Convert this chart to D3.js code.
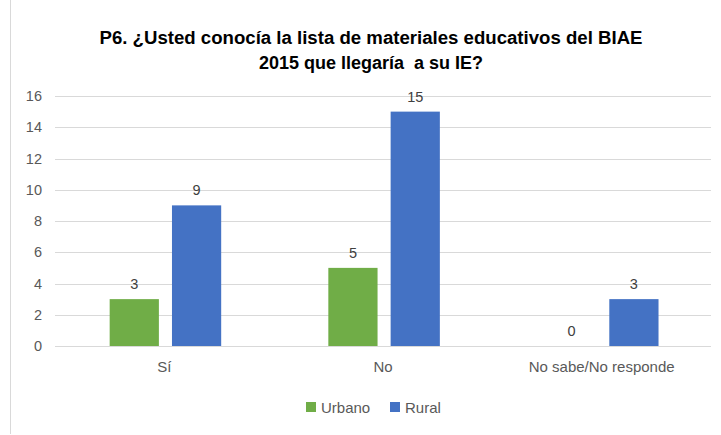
<!DOCTYPE html>
<html>
<head>
<meta charset="utf-8">
<script src="https://cdn.jsdelivr.net/npm/d3@7"></script>
<style>
  body { margin: 0; background: #fff; }
  svg { font-family: "Liberation Sans", Arial, sans-serif; }
</style>
</head>
<body>
<svg id="chart" width="721" height="435"></svg>
<script>
// Data
const categories = ["Sí", "No", "No sabe/No responde"];
const seriesNames = ["Urbano", "Rural"];
const urbano = [3, 5, 0];
const rural = [9, 15, 3];
const yTicks = [0, 2, 4, 6, 8, 10, 12, 14, 16];
const colors = ["#70AD47", "#4472C4"];

const rows = categories.map((c, i) => ({ cat: c, values: [urbano[i], rural[i]] }));

const margin = { top: 96, right: 10, bottom: 89, left: 55 };
const width = 721 - margin.left - margin.right;
const height = 435 - margin.top - margin.bottom;

const svg = d3.select("#chart");

// chart frame line on the left
svg.append("line")
  .attr("x1", 10.5).attr("x2", 10.5)
  .attr("y1", 0).attr("y2", 434)
  .style("stroke", "#d9d9d9");

const g = svg.append("g").attr("transform", `translate(${margin.left},${margin.top})`);

const x0 = d3.scaleBand().domain(categories).range([0, width]);
const x1 = d3.scaleBand()
  .domain(seriesNames)
  .range([x0.bandwidth() * 0.25, x0.bandwidth() * 0.76])
  .paddingInner(0.21);
const y = d3.scaleLinear().domain([0, 16]).range([height, 0]);

// gridlines
g.append("g")
  .selectAll("line")
  .data(yTicks)
  .join("line")
  .attr("x1", 0)
  .attr("x2", width)
  .attr("y1", (d) => Math.round(y(d)) + 0.5)
  .attr("y2", (d) => Math.round(y(d)) + 0.5)
  .style("stroke", "#d9d9d9");

// y axis labels
const yAxis = d3.axisLeft(y).tickValues(yTicks).tickSize(0).tickPadding(13);
g.append("g").call(yAxis)
  .call((a) => a.select(".domain").remove())
  .selectAll("text")
  .style("font-size", "14.5px")
  .style("fill", "#595959")
  .style("font-family", "Liberation Sans, Arial, sans-serif");

// x axis labels
const xAxis = d3.axisBottom(x0).tickSize(0).tickPadding(15);
g.append("g").attr("transform", `translate(0,${height})`).call(xAxis)
  .call((a) => a.select(".domain").remove())
  .selectAll("text")
  .style("font-size", "15px")
  .style("fill", "#595959")
  .style("font-family", "Liberation Sans, Arial, sans-serif");

// bars
const groups = g.selectAll(".grp")
  .data(rows)
  .join("g")
  .attr("class", "grp")
  .attr("transform", (d) => `translate(${x0(d.cat)},0)`);

groups.selectAll("rect")
  .data((d) => d.values.map((v, j) => ({ key: seriesNames[j], v, j })))
  .join("rect")
  .attr("x", (d) => x1(d.key))
  .attr("y", (d) => y(d.v))
  .attr("width", x1.bandwidth())
  .attr("height", (d) => height - y(d.v))
  .style("fill", (d) => colors[d.j]);

// data labels
groups.selectAll("text.lbl")
  .data((d) => d.values.map((v, j) => ({ key: seriesNames[j], v, j })))
  .join("text")
  .attr("class", "lbl")
  .attr("x", (d) => x1(d.key) + x1.bandwidth() / 2)
  .attr("y", (d) => y(d.v) - 10)
  .attr("text-anchor", "middle")
  .style("font-size", "14.5px")
  .style("fill", "#404040")
  .text((d) => d.v);

// title
const title = svg.append("text")
  .attr("text-anchor", "middle")
  .style("font-size", "17.5px")
  .style("font-weight", "bold")
  .style("fill", "#000");
title.append("tspan").attr("x", 371).attr("y", 44)
  .attr("textLength", 543).attr("lengthAdjust", "spacingAndGlyphs")
  .text("P6. ¿Usted conocía la lista de materiales educativos del BIAE");
title.append("tspan").attr("x", 371).attr("y", 69)
  .attr("textLength", 224).attr("lengthAdjust", "spacingAndGlyphs")
  .style("white-space", "pre")
  .text("2015 que llegaría  a su IE?");

// legend
const legend = svg.append("g").attr("transform", "translate(306,402)");
const items = legend.selectAll("g")
  .data(seriesNames)
  .join("g")
  .attr("transform", (d, i) => `translate(${i * 84},0)`);
items.append("rect")
  .attr("width", 10).attr("height", 10)
  .style("fill", (d, i) => colors[i]);
items.append("text")
  .attr("x", 15).attr("y", 11)
  .style("font-size", "15px")
  .style("fill", "#595959")
  .text((d) => d);
</script>
</body>
</html>
